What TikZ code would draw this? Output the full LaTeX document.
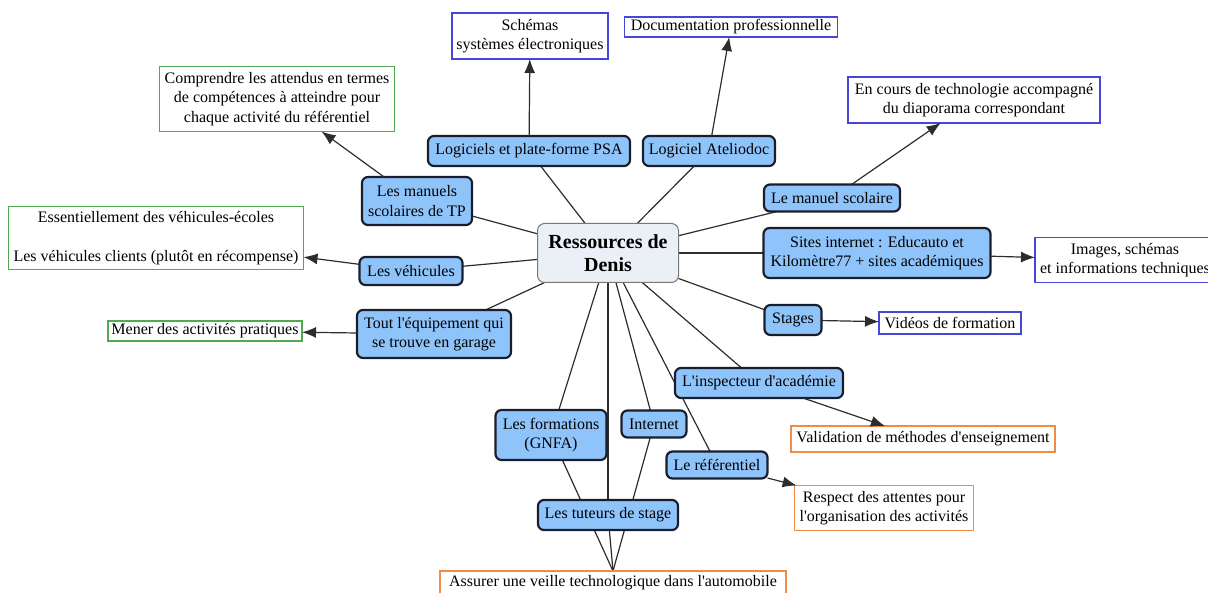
\documentclass[tikz,border=0pt]{standalone}
\usepackage{fontspec}
\setmainfont{Liberation Serif}
\usetikzlibrary{arrows.meta}
\pgfdeclarelayer{bg}
\pgfsetlayers{bg,main}
\newcommand{\ap}{\textquotesingle}
\definecolor{cfill}{RGB}{143,196,250}
\definecolor{cdraw}{RGB}{25,30,45}
\definecolor{mfill}{RGB}{234,240,245}
\definecolor{mdraw}{RGB}{120,120,120}
\definecolor{gbox}{RGB}{80,170,80}
\definecolor{bbox}{RGB}{70,70,215}
\definecolor{obox}{RGB}{240,140,70}
\definecolor{edgecol}{RGB}{45,45,45}
\begin{document}
\begin{tikzpicture}[x=1pt,y=-1pt,
 every node/.style={font=\fontsize{16}{19.5}\selectfont, align=center, inner sep=1pt, outer sep=0pt},
 concept/.style={draw=cdraw, line width=2.2pt, fill=cfill, rounded corners=6pt},
 hub/.style={draw=mdraw, line width=1pt, fill=mfill, rounded corners=7pt, font=\fontsize{20}{23}\selectfont\bfseries},
 res/.style={draw=#1, line width=1.3pt, fill=white},
 sz/.style n args={2}{minimum width=#1pt, minimum height=#2pt},
 link/.style={draw=edgecol, line width=1.2pt},
 arr/.style={link, -{Latex[length=14pt,width=11pt]}},
 ]
\useasboundingbox (0,0) rectangle (1208,593);
% central node
\node[hub, sz={141}{59}] (c) at (608,253) {Ressources de\\Denis};
% concepts
\node[concept, sz={202}{30}] (psa) at (529,151) {Logiciels et plate-forme PSA};
\node[concept, sz={132}{30}] (ate) at (709,151) {Logiciel Ateliodoc};
\node[concept, sz={110}{48}] (man) at (417,201) {Les manuels\\scolaires de TP};
\node[concept, sz={136}{27}] (msc) at (832,198) {Le manuel scolaire};
\node[concept, sz={227}{50}] (site) at (877,253) {Sites internet : Educauto et\\Kilomètre77 + sites académiques};
\node[concept, sz={103}{28}] (veh) at (411,271) {Les véhicules};
\node[concept, sz={154}{48}] (equip) at (434,334) {Tout l\ap équipement qui\\se trouve en garage};
\node[concept, sz={57}{30}] (stg) at (793,320) {Stages};
\node[concept, sz={168}{30}] (insp) at (759,383) {L\ap inspecteur d\ap académie};
\node[concept, sz={111}{50}] (form) at (551,435) {Les formations\\(GNFA)};
\node[concept, sz={65}{27}] (int) at (654,424) {Internet};
\node[concept, sz={101}{27}] (ref) at (717,465) {Le référentiel};
\node[concept, sz={140}{30}] (tut) at (608,515) {Les tuteurs de stage};
% results
\node[res=gbox, sz={235}{65}] (comp) at (277,99) {Comprendre les attendus en termes\\de compétences à atteindre pour\\chaque activité du référentiel};
\node[res=gbox, sz={295}{63}] (ess) at (156,238) {Essentiellement des véhicules-écoles\\[19.5pt]Les véhicules clients (plutôt en récompense)};
\node[res=gbox, sz={194}{20}] (men) at (205,331) {Mener des activités pratiques};
\node[res=bbox, sz={156}{46}] (sch) at (530,36) {Schémas\\systèmes électroniques};
\node[res=bbox, sz={213}{20}] (doc) at (731,27) {Documentation professionnelle};
\node[res=bbox, sz={252}{46}] (enc) at (974,100) {En cours de technologie accompagné\\du diaporama correspondant};
\node[res=bbox, sz={180}{45}] (img) at (1125,260) {Images, schémas\\et informations techniques};
\node[res=bbox, sz={142}{22}] (vid) at (950,323) {Vidéos de formation};
\node[res=obox, sz={264}{26}] (val) at (923,439) {Validation de méthodes d\ap enseignement};
\node[res=obox, sz={179}{45}] (resp) at (884,508) {Respect des attentes pour\\l\ap organisation des activités};
\node[res=obox, sz={346}{24}] (ass) at (613,583) {Assurer une veille technologique dans l\ap automobile};
% edges
\begin{pgfonlayer}{bg}
\foreach \n in {psa,ate,man,msc,site,veh,equip,stg,insp,form,int,ref,tut}
  \draw[link] (c) -- (\n);
\draw[link] (tut) -- (ass.north);
\draw[link] (form) -- (ass.north);
\draw[link] (int) -- (ass.north);
\end{pgfonlayer}
\draw[arr] (man) -- (comp);
\draw[arr] (psa) -- (sch);
\draw[arr] (ate) -- (doc);
\draw[arr] (msc) -- (enc);
\draw[arr] (site) -- (img);
\draw[arr] (veh) -- (ess);
\draw[arr] (equip) -- (men);
\draw[arr] (stg) -- (vid);
\draw[arr] (insp) -- (val);
\draw[arr] (ref) -- (resp);
\end{tikzpicture}
\end{document}
